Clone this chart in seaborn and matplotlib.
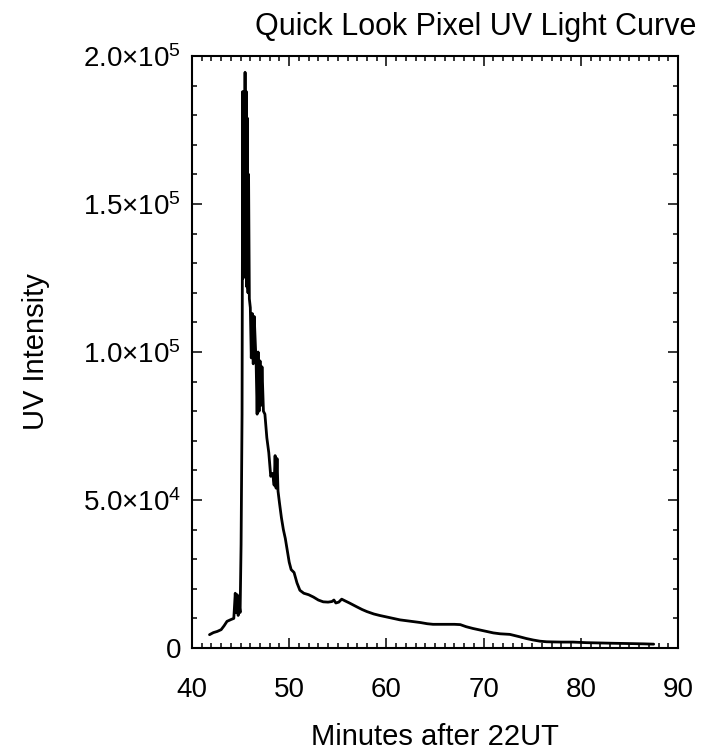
# Quick look pixel UV light curve

import numpy as np
import pandas as pd
import matplotlib
matplotlib.use("Agg")
import matplotlib.pyplot as plt
import seaborn as sns
from matplotlib.ticker import MultipleLocator, FixedLocator, FixedFormatter

# -------------------------------------------------
# Data
# -------------------------------------------------

minutes = [
    41.8, 42.2, 42.6, 43.0, 43.3, 43.6, 44.0, 44.3, 44.45, 44.55,
    44.65, 44.75, 44.85, 44.95, 45.05, 45.15, 45.22, 45.28, 45.34, 45.4,
    45.46, 45.52, 45.58, 45.64, 45.7, 45.76, 45.82, 45.9, 46.0, 46.1,
    46.2, 46.3, 46.4, 46.5, 46.6, 46.7, 46.8, 46.9, 47.0, 47.1,
    47.2, 47.35, 47.5, 47.7, 47.9, 48.1, 48.3, 48.45, 48.55, 48.65,
    48.75, 48.85, 49.0, 49.2, 49.4, 49.6, 49.8, 50.0, 50.2, 50.5,
    50.8, 51.1, 51.5, 52.0, 52.5, 53.0, 53.5, 54.0, 54.4, 54.6,
    54.8, 55.1, 55.4, 55.7, 56.2, 56.9, 57.5, 58.0, 58.7, 59.3,
    60.0, 60.7, 61.4, 62.1, 62.8, 63.5, 64.2, 64.8, 66.0, 67.0,
    67.6, 68.2, 68.9, 69.6, 70.3, 71.0, 71.7, 72.7, 73.7, 74.4,
    75.1, 75.8, 76.5, 78.0, 79.2, 80.6, 82.0, 83.3, 85.0, 86.5,
    87.5,
]

uv_intensity = [
    4.5e3, 5.2e3, 5.6e3, 6.2e3, 7.5e3, 9.0e3, 9.6e3, 1.0e4, 1.85e4, 1.2e4,
    1.8e4, 1.1e4, 1.5e4, 1.2e4, 3.5e4, 7.9e4, 1.88e5, 1.25e5, 1.85e5, 1.4e5,
    1.945e5, 1.3e5, 1.88e5, 1.22e5, 1.79e5, 1.2e5, 1.6e5, 1.18e5, 1.15e5, 9.8e4,
    1.13e5, 9.6e4, 1.12e5, 1.04e5, 9.6e4, 7.9e4, 1.0e5, 8.0e4, 9.7e4, 8.2e4,
    9.5e4, 8.0e4, 7.9e4, 7.1e4, 6.6e4, 5.8e4, 5.9e4, 5.5e4, 6.5e4, 5.4e4,
    6.4e4, 5.3e4, 4.9e4, 4.4e4, 4.0e4, 3.7e4, 3.3e4, 2.9e4, 2.65e4, 2.55e4,
    2.2e4, 1.95e4, 1.85e4, 1.8e4, 1.72e4, 1.62e4, 1.56e4, 1.55e4, 1.57e4, 1.62e4,
    1.52e4, 1.55e4, 1.65e4, 1.6e4, 1.52e4, 1.4e4, 1.3e4, 1.23e4, 1.15e4, 1.1e4,
    1.05e4, 1.0e4, 9.5e3, 9.2e3, 8.9e3, 8.6e3, 8.2e3, 8.0e3, 8.0e3, 8.0e3,
    7.9e3, 7.2e3, 6.6e3, 6.1e3, 5.6e3, 5.1e3, 4.8e3, 4.6e3, 3.8e3, 3.2e3,
    2.7e3, 2.3e3, 2.1e3, 2.0e3, 2.0e3, 1.8e3, 1.7e3, 1.6e3, 1.5e3, 1.4e3,
    1.3e3,
]

x_ticks = [40, 50, 60, 70, 80, 90]
y_ticks = [0, 5.0e4, 1.0e5, 1.5e5, 2.0e5]
y_tick_labels = [
    "0",
    r"$\mathregular{5.0{\times}10^{4}}$",
    r"$\mathregular{1.0{\times}10^{5}}$",
    r"$\mathregular{1.5{\times}10^{5}}$",
    r"$\mathregular{2.0{\times}10^{5}}$",
]

df = pd.DataFrame({"minutes": minutes, "uv": uv_intensity})

# -------------------------------------------------
# Style
# -------------------------------------------------

sns.set_style("ticks")
plt.rcParams['font.family'] = ['Liberation Sans', 'DejaVu Sans']
plt.rcParams['mathtext.fontset'] = 'custom'
plt.rcParams['mathtext.rm'] = 'Liberation Sans'
plt.rcParams['mathtext.it'] = 'Liberation Sans:italic'
plt.rcParams['mathtext.bf'] = 'Liberation Sans:bold'
plt.rcParams['text.color'] = 'black'
plt.rcParams['axes.labelcolor'] = 'black'

fig = plt.figure(figsize=(7.02, 7.54), dpi=100)
ax = fig.add_axes([192 / 702, 1 - 648 / 754, 486 / 702, 592 / 754])

sns.lineplot(data=df, x="minutes", y="uv", ax=ax, color="black",
             linewidth=2.0, estimator=None, sort=False)

ax.set_xlim(40, 90)
ax.set_ylim(0, 2.0e5)

ax.xaxis.set_major_locator(FixedLocator(x_ticks))
ax.xaxis.set_minor_locator(MultipleLocator(1))
ax.yaxis.set_major_locator(FixedLocator(y_ticks))
ax.yaxis.set_major_formatter(FixedFormatter(y_tick_labels))
ax.yaxis.set_minor_locator(MultipleLocator(1.0e4))

ax.tick_params(which="both", direction="in", top=True, right=True,
               colors="black", labelcolor="black", width=1.1)
ax.tick_params(which="major", length=7.5)
ax.tick_params(which="minor", length=3.8)
ax.tick_params(axis="x", which="major", labelsize=20, pad=21)
ax.tick_params(axis="y", which="major", labelsize=20, pad=8)

for s in ax.spines.values():
    s.set_visible(True)
    s.set_linewidth(1.5)
    s.set_color("black")

ax.set_xlabel("Minutes after 22UT", fontsize=21)
ax.xaxis.label.set_va("baseline")
ax.xaxis.set_label_coords(0.5, -0.164)

ax.set_ylabel("UV Intensity", fontsize=21)
ax.yaxis.label.set_va("center")
ax.yaxis.set_label_coords(-0.32, 0.5)

fig.text(476 / 702, 1 - 35 / 754, "Quick Look Pixel UV Light Curve",
         fontsize=22, ha="center", va="baseline")

fig.savefig("out.png", dpi=100)
